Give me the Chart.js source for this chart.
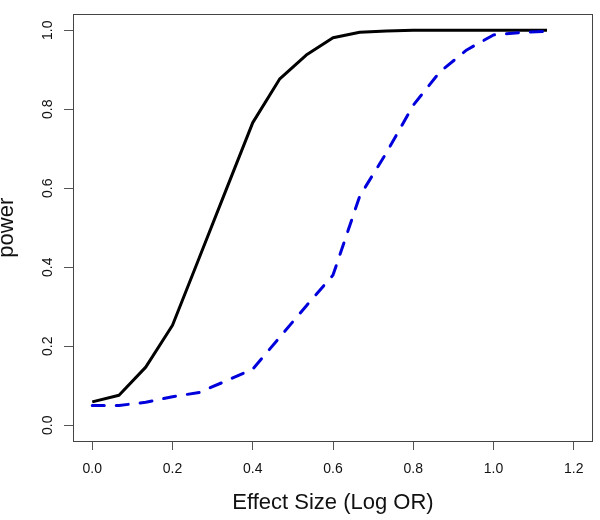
<!DOCTYPE html>
<html>
<head>
<meta charset="utf-8">
<script src="https://cdn.jsdelivr.net/npm/chart.js@4.4.1/dist/chart.umd.min.js"></script>
<style>
  body { margin: 0; background: #fff; }
  canvas { display: block; }
</style>
</head>
<body>
<canvas id="chart-power" width="600" height="520"></canvas>
<script>
// effect size (log OR) grid
const effectSize = [0, 0.0667, 0.1333, 0.2, 0.2667, 0.3333, 0.4, 0.4667, 0.5333, 0.6,
                    0.6667, 0.7333, 0.8, 0.8667, 0.9333, 1.0, 1.0667, 1.1333];
// solid black curve
const powerSolid = [0.059, 0.076, 0.147, 0.253, 0.424, 0.595, 0.766, 0.876, 0.937, 0.981,
                    0.995, 0.998, 1.0, 1.0, 1.0, 1.0, 1.0, 1.0];
// dashed blue curve
const powerDashed = [0.050, 0.050, 0.058, 0.072, 0.083, 0.112, 0.142, 0.222, 0.302, 0.380,
                     0.580, 0.690, 0.810, 0.895, 0.950, 0.988, 0.994, 0.997];

const xTicks = [0, 0.2, 0.4, 0.6, 0.8, 1.0, 1.2];
const yTicks = [0, 0.2, 0.4, 0.6, 0.8, 1.0];

const FONT = "'Liberation Sans', Arial, Helvetica, sans-serif";

function toPoints(xs, ys) {
  return xs.map((x, i) => ({ x: x, y: ys[i] }));
}

// box round the plot region, like R's box()
const plotBox = {
  id: 'plotBox',
  afterDraw(chart) {
    const a = chart.chartArea;
    const ctx = chart.ctx;
    ctx.save();
    ctx.strokeStyle = '#444';
    ctx.lineWidth = 1;
    ctx.strokeRect(Math.round(a.left) + 0.5, Math.round(a.top) + 0.5,
                   Math.round(a.right - a.left) - 1, Math.round(a.bottom - a.top));
    ctx.restore();
  }
};

new Chart(document.getElementById('chart-power'), {
  type: 'line',
  data: {
    datasets: [
      {
        label: 'solid',
        data: toPoints(effectSize, powerSolid),
        borderColor: '#000',
        borderWidth: 3,
        pointRadius: 0,
        tension: 0,
        borderJoinStyle: 'round',
        order: 2
      },
      {
        label: 'dashed',
        data: toPoints(effectSize, powerDashed),
        borderColor: '#0000dd',
        borderWidth: 3,
        borderDash: [12, 12],
        borderCapStyle: 'round',
        borderJoinStyle: 'round',
        pointRadius: 0,
        tension: 0,
        order: 1
      }
    ]
  },
  options: {
    responsive: false,
    animation: false,
    layout: { padding: { top: 13, right: 7, left: 0, bottom: 0 } },
    plugins: {
      legend: { display: false },
      tooltip: { enabled: false }
    },
    scales: {
      x: {
        type: 'linear',
        min: -0.048,
        max: 1.248,
        afterBuildTicks: (scale) => { scale.ticks = xTicks.map(v => ({ value: v })); },
        afterFit: (scale) => { scale.height = 79; },
        grid: { drawOnChartArea: false, drawTicks: true, tickLength: 9, color: '#555' },
        border: { display: false },
        ticks: {
          callback: (v) => Number(v).toFixed(1),
          color: '#111',
          padding: 11,
          maxRotation: 0,
          font: { family: FONT, size: 14 }
        },
        title: {
          display: true,
          text: 'Effect Size (Log OR)',
          color: '#111',
          font: { family: FONT, size: 22, lineHeight: 1 },
          padding: { top: 0, bottom: 6 }
        }
      },
      y: {
        type: 'linear',
        min: -0.04,
        max: 1.04,
        afterBuildTicks: (scale) => { scale.ticks = yTicks.map(v => ({ value: v })); },
        afterFit: (scale) => { scale.width = 73; },
        grid: { drawOnChartArea: false, drawTicks: true, tickLength: 9, color: '#555' },
        border: { display: false },
        ticks: {
          callback: (v) => Number(v).toFixed(1),
          color: '#111',
          padding: 6,
          minRotation: 90,
          maxRotation: 90,
          crossAlign: 'center',
          font: { family: FONT, size: 14 }
        },
        title: {
          display: true,
          text: 'power',
          color: '#111',
          font: { family: FONT, size: 22, lineHeight: 1 },
          padding: { top: -4, bottom: 0 }
        }
      }
    }
  },
  plugins: [plotBox]
});
</script>
</body>
</html>
